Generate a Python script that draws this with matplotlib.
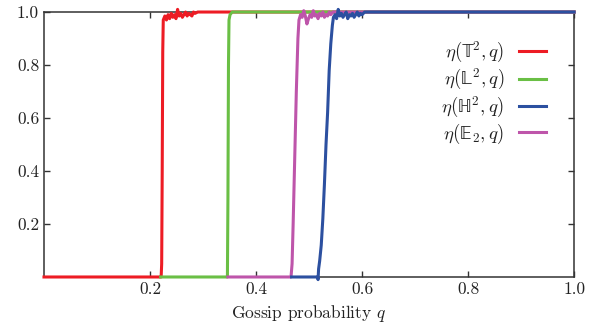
import matplotlib
matplotlib.use("Agg")
import matplotlib.pyplot as plt

plt.rcParams['font.family'] = 'serif'
plt.rcParams['font.serif'] = ['cmr10']
plt.rcParams['mathtext.fontset'] = 'cm'
plt.rcParams['axes.formatter.use_mathtext'] = True

# curves (gossip probability q -> eta)
q_torus = [0.0, 0.221, 0.222, 0.223, 0.224, 0.225, 0.228, 0.231, 0.234, 0.237, 0.240,
           0.243, 0.246, 0.249, 0.252, 0.255, 0.258, 0.261, 0.264, 0.267, 0.270,
           0.273, 0.276, 0.279, 0.282, 0.285, 0.29, 1.0]
eta_torus = [0.0, 0.0, 0.05, 0.4, 0.85, 0.97, 0.985, 0.97, 0.99, 0.975, 0.995,
             0.98, 0.99, 0.975, 1.01, 0.985, 0.995, 0.98, 0.99, 1.0, 0.985,
             0.995, 0.99, 0.985, 1.0, 0.995, 1.0, 1.0]

q_lattice = [0.22, 0.346, 0.347, 0.348, 0.349, 0.351, 0.355, 1.0]
eta_lattice = [0.0, 0.0, 0.3, 0.8, 0.97, 0.99, 1.0, 1.0]

q_hyper = [0.467, 0.516, 0.517, 0.518, 0.520, 0.523, 0.526, 0.529, 0.532, 0.535,
           0.538, 0.541, 0.544, 0.546, 0.549, 0.552, 0.555, 0.558, 0.561, 0.564,
           0.567, 0.570, 0.573, 0.576, 0.579, 0.582, 0.585, 0.588, 0.591, 0.594,
           0.597, 0.600, 0.605, 1.0]
eta_hyper = [0.0, 0.0, -0.01, 0.03, 0.06, 0.12, 0.22, 0.35, 0.5, 0.62,
             0.78, 0.88, 0.95, 0.98, 0.99, 0.975, 1.01, 0.985, 0.995, 0.98,
             0.99, 1.0, 0.975, 0.99, 0.985, 0.995, 0.98, 0.99, 1.0, 0.985,
             0.995, 0.99, 1.0, 1.0]

q_euclid = [0.347, 0.466, 0.468, 0.470, 0.473, 0.476, 0.479, 0.481, 0.484, 0.487,
            0.490, 0.493, 0.496, 0.499, 0.502, 0.505, 0.508, 0.511, 0.514, 0.517,
            0.520, 0.523, 0.526, 0.529, 0.532, 0.535, 0.538, 0.541, 0.545, 1.0]
eta_euclid = [0.0, 0.0, 0.05, 0.2, 0.45, 0.7, 0.9, 0.97, 0.99, 0.98,
              1.005, 0.985, 0.955, 0.975, 0.99, 0.98, 1.005, 0.985, 0.99, 0.975,
              0.995, 0.985, 1.0, 0.98, 0.99, 0.985, 1.0, 0.99, 1.0, 1.0]

ticks = [0.2, 0.4, 0.6, 0.8, 1.0]
tick_labels = ['0.2', '0.4', '0.6', '0.8', '1.0']

fig = plt.figure(figsize=(5.89, 3.34), dpi=100)
ax = fig.add_axes([0.0747, 0.1707, 0.9, 0.7933])

lw = 2.2
ax.plot(q_torus, eta_torus, color='#ed1c24', lw=lw, clip_on=False, zorder=3,
        label=r'$\eta(\mathrm{\mathbb{T}}^2, q)$')
ax.plot(q_lattice, eta_lattice, color='#6abf45', lw=lw, clip_on=False, zorder=4,
        label=r'$\eta(\mathrm{\mathbb{L}}^2, q)$')
ax.plot(q_euclid, eta_euclid, color='#be55aa', lw=lw, clip_on=False, zorder=5,
        label=r'$\eta(\mathrm{\mathbb{E}}_2, q)$')
ax.plot(q_hyper, eta_hyper, color='#2c50a0', lw=lw, clip_on=False, zorder=6,
        label=r'$\eta(\mathrm{\mathbb{H}}^2, q)$')

ax.set_xlim(0, 1)
ax.set_ylim(0, 1)
ax.set_xticks(ticks)
ax.set_xticklabels(tick_labels)
ax.set_yticks(ticks)
ax.set_yticklabels(tick_labels)
ax.tick_params(direction='in', length=4, width=1, top=True, right=True,
               labelsize=12.5, colors='#333333', labelcolor='#222222')
for s in ax.spines.values():
    s.set_linewidth(1.1)
    s.set_color('#333333')
ax.set_xlabel(r'Gossip probability $q$', fontsize=12.5, labelpad=4, color='#222222')

handles, labels = ax.get_legend_handles_labels()
order = [0, 1, 3, 2]
leg = ax.legend([handles[i] for i in order], [labels[i] for i in order],
                loc='upper right', bbox_to_anchor=(0.978, 0.959), frameon=False,
                markerfirst=False, fontsize=13.5, handlelength=1.4,
                labelspacing=0.12, handletextpad=0.8)
for t in leg.get_texts():
    t.set_color('#222222')

fig.savefig('out.png', dpi=100)
